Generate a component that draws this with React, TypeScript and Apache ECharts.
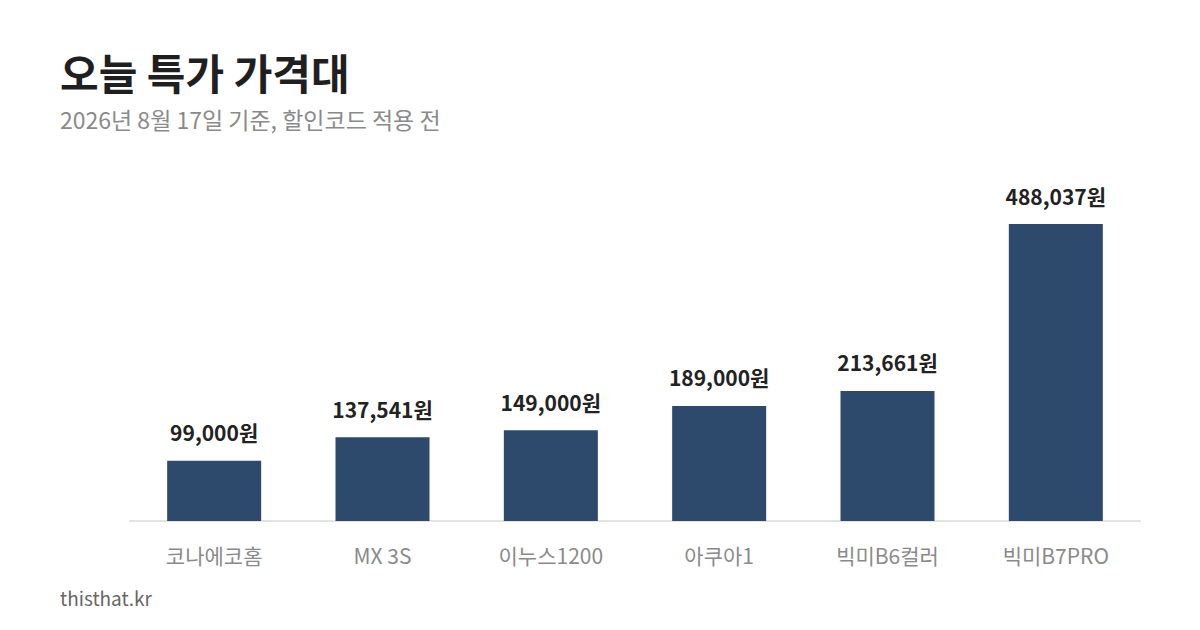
import React, { useEffect, useRef } from 'react';
import * as echarts from 'echarts';

const FONT = '"Noto Sans CJK KR", "Noto Sans", sans-serif';

const categories = ['코나에코홈', 'MX 3S', '이누스1200', '아쿠아1', '빅미B6컬러', '빅미B7PRO'];
const prices = [99000, 137541, 149000, 189000, 213661, 488037];

const TITLE = '오늘 특가 가격대';
const SUBTITLE = '2026년 8월 17일 기준, 할인코드 적용 전';
const FOOTER = 'thisthat.kr';

const BAR_COLOR = '#2d4a6d';

export default function App() {
  const chartRef = useRef<HTMLDivElement>(null);

  useEffect(() => {
    if (!chartRef.current) return;
    const chart = echarts.init(chartRef.current, null, { renderer: 'svg' });

    const option: echarts.EChartsOption = {
      animation: false,
      backgroundColor: '#ffffff',
      textStyle: { fontFamily: FONT },
      graphic: [
        {
          type: 'text',
          left: 60,
          top: 50,
          style: { text: TITLE, font: `bold 42px ${FONT}`, fill: '#1f1f1f' },
        },
        {
          type: 'text',
          left: 60,
          top: 107,
          style: { text: SUBTITLE, font: `23px ${FONT}`, fill: '#8a8a8a' },
        },
        {
          type: 'text',
          left: 60,
          top: 588,
          style: { text: FOOTER, font: `19px ${FONT}`, fill: '#666666' },
        },
      ],
      grid: { left: 130, right: 60, top: 224, bottom: 109, containLabel: false },
      xAxis: {
        type: 'category',
        data: categories,
        axisLine: { lineStyle: { color: '#e3e3e3', width: 2 } },
        axisTick: { show: false },
        axisLabel: { color: '#8a8a8a', fontSize: 21, margin: 23, fontFamily: FONT },
      },
      yAxis: {
        type: 'value',
        min: 0,
        max: 'dataMax',
        show: false,
        splitLine: { show: false },
      },
      series: [
        {
          type: 'bar',
          data: prices,
          barWidth: 94,
          itemStyle: { color: BAR_COLOR },
          label: {
            show: true,
            position: 'top',
            distance: 18,
            color: '#222222',
            fontSize: 21,
            fontWeight: 'bold',
            fontFamily: FONT,
            formatter: (p: any) => `${Number(p.value).toLocaleString('en-US')}원`,
          },
        },
      ],
    };

    chart.setOption(option);
    return () => chart.dispose();
  }, []);

  return (
    <div
      ref={chartRef}
      style={{ position: 'fixed', left: 0, top: 0, width: 1200, height: 630 }}
    />
  );
}
